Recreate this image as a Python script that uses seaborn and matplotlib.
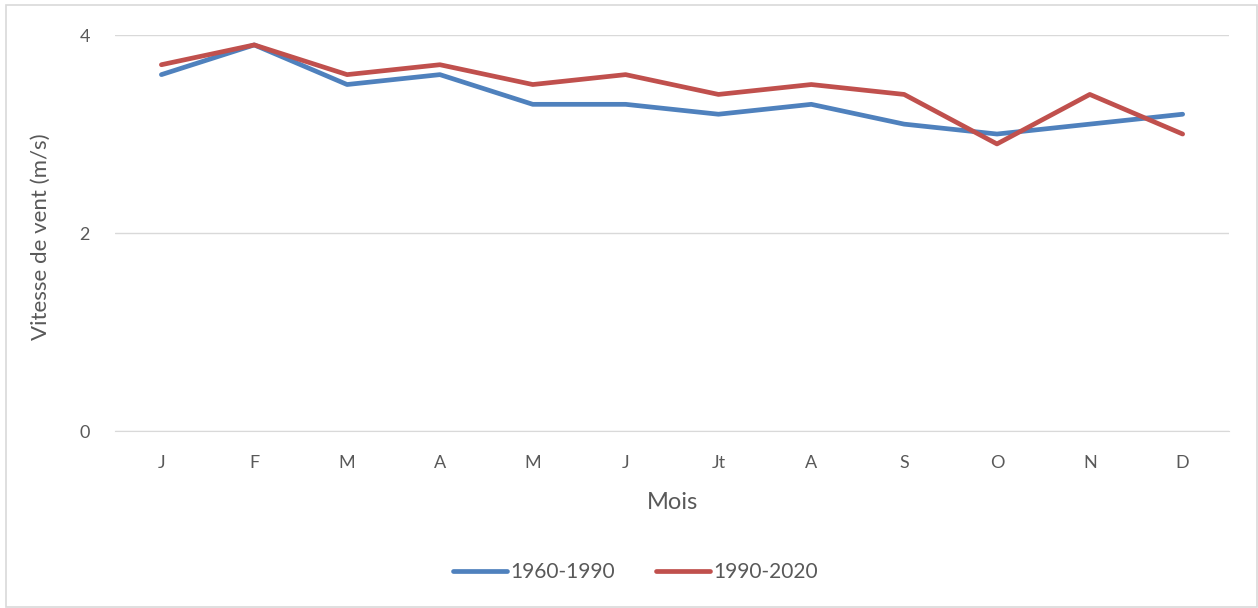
import numpy as np
import pandas as pd
import matplotlib
matplotlib.use("Agg")
import matplotlib.pyplot as plt
import seaborn as sb
from matplotlib.patches import Rectangle

mois = ["J", "F", "M", "A", "M", "J", "Jt", "A", "S", "O", "N", "D"]
v_1960_1990 = [3.6, 3.9, 3.5, 3.6, 3.3, 3.3, 3.2, 3.3, 3.1, 3.0, 3.1, 3.2]
v_1990_2020 = [3.7, 3.9, 3.6, 3.7, 3.5, 3.6, 3.4, 3.5, 3.4, 2.9, 3.4, 3.0]
periodes = ["1960-1990", "1990-2020"]
couleurs = ["#4F81BD", "#C0504D"]

# months repeat (J, M, A), so plot on positions and label afterwards
pos = np.arange(len(mois))
df = pd.DataFrame({
    "pos": np.concatenate([pos, pos]),
    "vitesse": v_1960_1990 + v_1990_2020,
    "periode": [periodes[0]] * len(mois) + [periodes[1]] * len(mois),
})

sb.set_style("white")
plt.rcParams["font.family"] = ["Lato", "DejaVu Sans"]
gris = "#595959"

fig = plt.figure(figsize=(12.58, 6.08), dpi=100)
ax = fig.add_axes([0.0914, 0.291, 0.8856, 0.6514])

sb.lineplot(data=df, x="pos", y="vitesse", hue="periode", palette=couleurs,
            linewidth=3.4, ax=ax, legend=True)
for line in ax.lines:
    line.set_solid_capstyle("round")
    line.set_solid_joinstyle("round")

ax.set_xlim(-0.5, len(mois) - 0.5)
ax.set_ylim(0, 4)
ax.set_xticks(pos)
ax.set_xticklabels(mois)
ax.set_yticks([0, 2, 4])
ax.tick_params(axis="both", length=0, labelsize=13, labelcolor=gris)
ax.tick_params(axis="x", pad=17)
ax.tick_params(axis="y", pad=18)
ax.yaxis.grid(True, color="#D9D9D9", linewidth=1)
for s in ["top", "right", "left"]:
    ax.spines[s].set_visible(False)
ax.spines["bottom"].set_color("#D9D9D9")
ax.set_xlabel("Mois", fontsize=17, color=gris, labelpad=15)
ax.set_ylabel("Vitesse de vent (m/s)", fontsize=16, color=gris)
ax.yaxis.set_label_coords(-0.058, 0.49)

handles, labels = ax.get_legend_handles_labels()
ax.legend(handles, labels, loc="center", bbox_to_anchor=(0.505, 0.059),
          bbox_transform=fig.transFigure, ncol=2, frameon=False,
          fontsize=15, labelcolor=gris, handlelength=2.6, handletextpad=0.15,
          columnspacing=2.0)

fig.patches.append(Rectangle((6 / 1258, 1 / 608), 1251 / 1258, 602 / 608,
                             transform=fig.transFigure, fill=False,
                             edgecolor="#D9D9D9", linewidth=1.2))

fig.savefig("out.png", dpi=100)
